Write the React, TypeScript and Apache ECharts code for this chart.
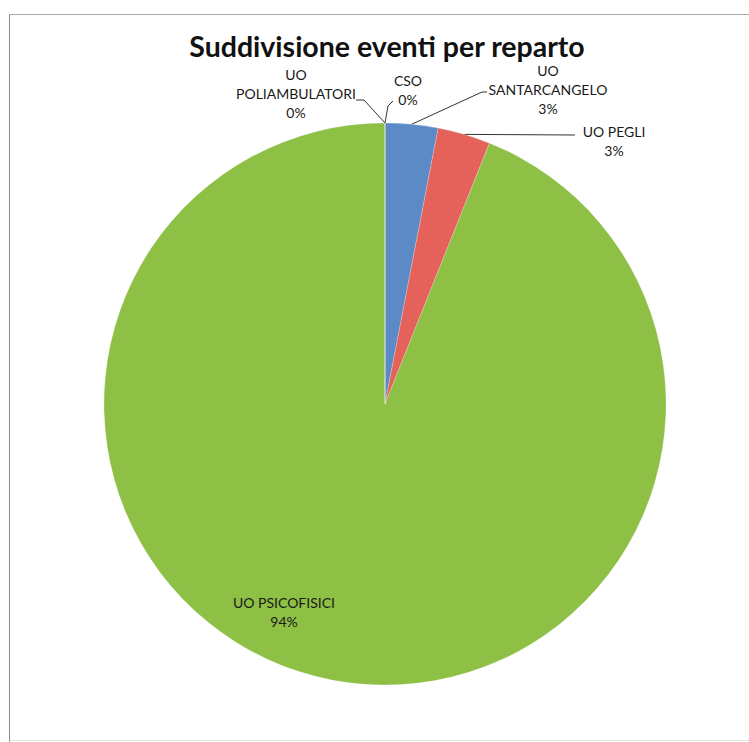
import React, { useEffect, useRef } from "react";
import * as echarts from "echarts";

const TITLE = "Suddivisione eventi per reparto";
const categories = ["UO SANTARCANGELO", "UO PEGLI", "UO PSICOFISICI", "UO POLIAMBULATORI", "CSO"];
const values = [1, 1, 31, 0, 0];
const colors = ["#5B8AC6", "#E4625A", "#8DC044", "#8064A2", "#4BACC6"];

// label anchor points (layout only)
const labelPos: Record<number, { x: number; y: number; line?: number[][] }> = {
  0: { x: 548, y: 89, line: [[482, 92], [487, 92]] },
  1: { x: 614, y: 141, line: [[575, 135]] },
  2: { x: 284, y: 612 },
  3: { x: 296, y: 93, line: [[364, 100], [356, 100]] },
  4: { x: 408, y: 90, line: [[388, 106], [393, 101]] },
};

export default function App() {
  const ref = useRef<HTMLDivElement>(null);
  useEffect(() => {
    if (!ref.current) return;
    const chart = echarts.init(ref.current, undefined, { renderer: "svg" });
    chart.setOption({
      animation: false,
      backgroundColor: "#ffffff",
      title: {
        text: TITLE,
        left: 387,
        top: 35,
        padding: 0,
        textAlign: "center",
        textStyle: { fontFamily: "Lato", fontWeight: "bold", fontSize: 28.5, lineHeight: 22, color: "#111" },
      },
      graphic: [
        { type: "line", shape: { x1: 9.5, y1: 14.5, x2: 749, y2: 14.5 }, style: { stroke: "#aaa", lineWidth: 1 } },
        { type: "line", shape: { x1: 9.5, y1: 14.5, x2: 9.5, y2: 742 }, style: { stroke: "#888", lineWidth: 1 } },
        { type: "line", shape: { x1: 9.5, y1: 740.5, x2: 749, y2: 740.5 }, style: { stroke: "#e4e4e4", lineWidth: 1 } },
      ],
      series: [
        {
          type: "pie",
          center: [385, 404],
          radius: 281,
          startAngle: 90,
          clockwise: true,
          percentPrecision: 0,
          avoidLabelOverlap: false,
          color: colors,
          itemStyle: { borderColor: "rgba(255,255,255,0.4)", borderWidth: 0.5 },
          data: categories.map((c, i) => ({
            name: c,
            value: values[i],
            label: i === 2 ? { position: "inside" } : { position: "outside" },
            labelLine: { show: i !== 2 },
          })),
          label: {
            fontFamily: "Lato",
            fontSize: 14,
            color: "#1a1a1a",
            lineHeight: 19,
            align: "center",
            formatter: (p: any) => {
              const n = p.dataIndex === 0 || p.dataIndex === 3 ? p.name.replace(" ", "\n") : p.name;
              return n + "\n" + p.percent + "%";
            },
          },
          labelLine: {
            lineStyle: { color: "#333", width: 1 },
            length: 10,
            length2: 10,
          },
          labelLayout: (params: any) => {
            const lp = labelPos[params.dataIndex];
            const res: any = { x: lp.x, y: lp.y, align: "center", verticalAlign: "middle" };
            if (lp.line && params.labelLinePoints) {
              res.labelLinePoints = [params.labelLinePoints[0], ...lp.line];
            }
            return res;
          },
        },
      ],
    });
    return () => chart.dispose();
  }, []);
  return (
    <div
      ref={ref}
      style={{ position: "fixed", left: 0, top: 0, width: 749, height: 742 }}
    />
  );
}
